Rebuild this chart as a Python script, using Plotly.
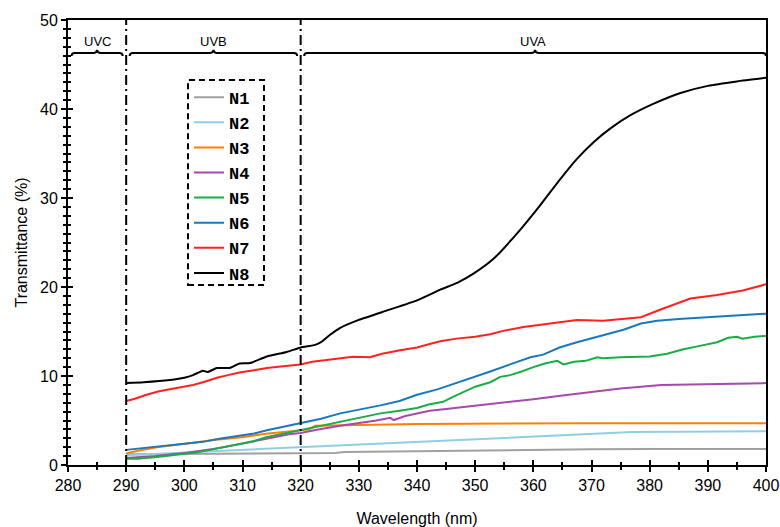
import plotly.graph_objects as go

# ---- measured transmittance spectra (wavelength nm, transmittance %) ----
n1_wl = [290, 300, 310, 320, 326, 327.5, 340, 350, 360, 370, 380, 400]
n1_t = [1.2, 1.25, 1.3, 1.35, 1.35, 1.45, 1.55, 1.65, 1.75, 1.78, 1.8, 1.8]

n2_wl = [290, 300, 310, 320, 330, 340, 350, 360, 370, 377, 385, 400]
n2_t = [1.1, 1.4, 1.7, 2.0, 2.3, 2.6, 2.85, 3.15, 3.45, 3.7, 3.75, 3.8]

n3_wl = [290, 292, 295.3, 298, 301.5, 305, 309.5, 314, 318, 320, 321.5, 322.5,
         325, 330, 340, 350, 360, 370, 380, 390, 400]
n3_t = [1.3, 1.6, 2.0, 2.25, 2.5, 2.8, 3.1, 3.5, 3.8, 3.9, 4.0, 4.4,
        4.45, 4.5, 4.6, 4.65, 4.7, 4.7, 4.7, 4.7, 4.7]

n4_wl = [290, 295, 300, 305, 310, 315, 318, 320, 323, 326.8, 330, 333, 335.4,
         336, 338, 340, 342.2, 345, 350, 355, 360, 365, 370, 375, 382, 390, 400]
n4_t = [0.8, 1.0, 1.35, 1.8, 2.4, 3.1, 3.45, 3.6, 4.0, 4.4, 4.7, 5.0, 5.3,
        5.05, 5.5, 5.8, 6.1, 6.3, 6.65, 7.0, 7.4, 7.8, 8.2, 8.6, 9.0, 9.1, 9.2]

n5_wl = [290, 292, 295.3, 298, 300.4, 302, 304.4, 307, 309.5, 312, 314.2, 317,
         320, 322, 324, 326.8, 330, 333.7, 337, 340, 342, 344.5, 346, 348, 350,
         352.6, 354.3, 356, 358, 360, 362, 364.1, 365.2, 367, 369, 371, 372,
         375, 380, 383, 385.8, 388, 391.6, 393.5, 395, 396, 398, 400]
n5_t = [0.7, 0.7, 0.9, 1.1, 1.35, 1.4, 1.7, 2.0, 2.35, 2.7, 3.15, 3.5,
        3.9, 4.2, 4.5, 4.8, 5.3, 5.8, 6.1, 6.4, 6.8, 7.1, 7.6, 8.2, 8.8,
        9.3, 9.9, 10.1, 10.5, 11.0, 11.4, 11.7, 11.3, 11.6, 11.7, 12.1, 12.0,
        12.1, 12.2, 12.5, 13.0, 13.3, 13.8, 14.3, 14.4, 14.2, 14.4, 14.5]

n6_wl = [290, 293, 297.5, 300, 303.2, 306, 309.5, 312, 314.2, 317, 320, 323.5,
         326.8, 330, 333.7, 337, 340, 343.5, 346.8, 350, 352.6, 356, 359.5,
         361.7, 364.5, 367.5, 371, 375.5, 378.5, 381.3, 385, 390, 395, 400]
n6_t = [1.7, 1.9, 2.25, 2.4, 2.6, 2.95, 3.3, 3.55, 3.9, 4.3, 4.7, 5.2,
        5.8, 6.2, 6.7, 7.2, 7.9, 8.5, 9.2, 9.9, 10.5, 11.3, 12.1,
        12.4, 13.2, 13.8, 14.4, 15.2, 15.9, 16.2, 16.4, 16.6, 16.8, 17.0]

n7_wl = [290, 291.5, 293.5, 295.5, 297.5, 299.5, 301.5, 303.5, 305.6, 307.5,
         309.5, 312, 314.2, 317, 320, 322, 326.2, 329, 331.9, 334, 337.1, 340,
         342.2, 344, 346.8, 350, 352.6, 355, 358.3, 362, 367.5, 372, 377.2,
         378.5, 382, 387, 391.6, 396, 400]
n7_t = [7.2, 7.45, 7.9, 8.25, 8.5, 8.75, 9.0, 9.35, 9.8, 10.1,
        10.4, 10.65, 10.9, 11.1, 11.3, 11.6, 11.9, 12.15, 12.1, 12.5, 12.9, 13.2,
        13.6, 13.9, 14.2, 14.4, 14.7, 15.1, 15.5, 15.8, 16.3, 16.2, 16.5,
        16.6, 17.5, 18.7, 19.1, 19.6, 20.3]

n8_wl = [290, 293, 297.5, 300, 301.5, 303.2, 304, 305.6, 307.8, 309.5, 311.3,
         314.2, 317.6, 320, 322.5, 323.5, 325, 326.8, 330, 335, 340, 344, 347,
         349.7, 353.2, 357.7, 361.2, 364.6, 367.5, 370.4, 373.2, 376.7, 380.7,
         385.3, 390, 395, 400]
n8_t = [9.2, 9.3, 9.55, 9.8, 10.1, 10.6, 10.45, 10.9, 10.9, 11.4, 11.45,
        12.2, 12.7, 13.2, 13.5, 13.8, 14.6, 15.4, 16.3, 17.4, 18.5, 19.7, 20.5,
        21.5, 23.2, 26.4, 29.2, 32.1, 34.4, 36.3, 37.8, 39.3, 40.6,
        41.8, 42.6, 43.1, 43.5]

series_names = ["N1", "N2", "N3", "N4", "N5", "N6", "N7", "N8"]
series_wl = [n1_wl, n2_wl, n3_wl, n4_wl, n5_wl, n6_wl, n7_wl, n8_wl]
series_t = [n1_t, n2_t, n3_t, n4_t, n5_t, n6_t, n7_t, n8_t]
series_colors = ["#a0a0a0", "#8fcfe6", "#ff8000", "#a54aab",
                 "#1aad45", "#1a78bd", "#ff2020", "#000000"]

# UV bands
band_names = ["UVC", "UVB", "UVA"]
band_edges = [280, 290, 320, 400]

fig = go.Figure()
for name, wl, t, col in zip(series_names, series_wl, series_t, series_colors):
    smooth = name == "N8"
    fig.add_trace(go.Scatter(
        x=wl, y=t, name=name, mode="lines",
        line=dict(color=col, width=2,
                  shape="spline" if smooth else "linear",
                  smoothing=0.5 if smooth else None)))

# companion axes carrying inward ticks so ticks cross the axis lines
fig.add_trace(go.Scatter(x=[], y=[], xaxis="x2", yaxis="y2",
                         showlegend=False, hoverinfo="skip"))

font_axis = dict(family="Liberation Sans, Arial, sans-serif", size=16,
                 color="black")

common_tick = dict(showgrid=False, zeroline=False, ticklen=5, tickwidth=2,
                   tickcolor="black", automargin=False)

fig.update_layout(
    width=780, height=527,
    margin=dict(l=68, r=14, t=20, b=62),
    paper_bgcolor="white", plot_bgcolor="white",
    font=font_axis,
    xaxis=dict(range=[280, 400], dtick=10, tick0=280, ticks="outside",
               showline=True, linewidth=2, linecolor="black", mirror=True,
               minor=dict(dtick=5, ticks="outside", ticklen=3, tickwidth=1.5,
                          tickcolor="black"),
               title=dict(text="Wavelength (nm)", font=font_axis, standoff=22),
               tickfont=font_axis, **common_tick),
    yaxis=dict(range=[0, 50], dtick=10, tick0=0, ticks="outside",
               showline=True, linewidth=2, linecolor="black", mirror=True,
               minor=dict(dtick=1, ticks="outside", ticklen=3, tickwidth=1.5,
                          tickcolor="black"),
               title=dict(text="Transmittance (%)", font=font_axis, standoff=8),
               tickfont=font_axis, **common_tick),
    xaxis2=dict(range=[280, 400], dtick=10, tick0=280, ticks="inside",
                overlaying="x", anchor="y2", side="bottom",
                showticklabels=False, showline=False,
                minor=dict(dtick=5, ticks="inside", ticklen=3, tickwidth=1.5,
                           tickcolor="black"),
                **common_tick),
    yaxis2=dict(range=[0, 50], dtick=10, tick0=0, ticks="inside",
                overlaying="y", anchor="x2", side="left",
                showticklabels=False, showline=False,
                minor=dict(dtick=1, ticks="inside", ticklen=3, tickwidth=1.5,
                           tickcolor="black"),
                **common_tick),
    legend=dict(x=0.1734, y=0.866, xanchor="left", yanchor="top",
                bgcolor="rgba(0,0,0,0)", borderwidth=0,
                font=dict(family="Liberation Mono, Courier New, monospace",
                          size=17, color="black", weight="bold"),
                tracegroupgap=0),
    showlegend=True,
)

# dashed frame around the legend
fig.add_shape(type="rect", xref="paper", yref="paper",
              x0=0.1719, x1=0.2808, y0=0.4045, y1=0.865,
              line=dict(color="black", width=2, dash="6px,4px"),
              fillcolor="rgba(0,0,0,0)", layer="above")

# band boundaries
for edge in band_edges[1:-1]:
    fig.add_shape(type="line", xref="x", yref="paper", x0=edge, x1=edge,
                  y0=0, y1=1,
                  line=dict(color="black", width=2, dash="10px,4px,2px,4px"))

# curly braces with band labels
brace_y = 46.3
label_y = 47.6
d = 0.35
e = 0.55
for i, name in enumerate(band_names):
    x0 = band_edges[i] + 0.6
    x1 = band_edges[i + 1] - (0.6 if i < len(band_names) - 1 else 0.0)
    xm = (x0 + x1) / 2
    path = (f"M {x0},{brace_y - d} Q {x0},{brace_y} {x0 + e},{brace_y} "
            f"L {xm - e},{brace_y} Q {xm},{brace_y} {xm},{brace_y + d} "
            f"Q {xm},{brace_y} {xm + e},{brace_y} "
            f"L {x1 - e},{brace_y} Q {x1},{brace_y} {x1},{brace_y - d}")
    fig.add_shape(type="path", xref="x", yref="y", path=path,
                  line=dict(color="black", width=2))
    fig.add_annotation(x=(band_edges[i] + band_edges[i + 1]) / 2, y=label_y,
                       xref="x", yref="y", text=name, showarrow=False,
                       font=dict(family="Liberation Sans, Arial, sans-serif",
                                 size=13, color="black"))

fig.write_html("out.html")
